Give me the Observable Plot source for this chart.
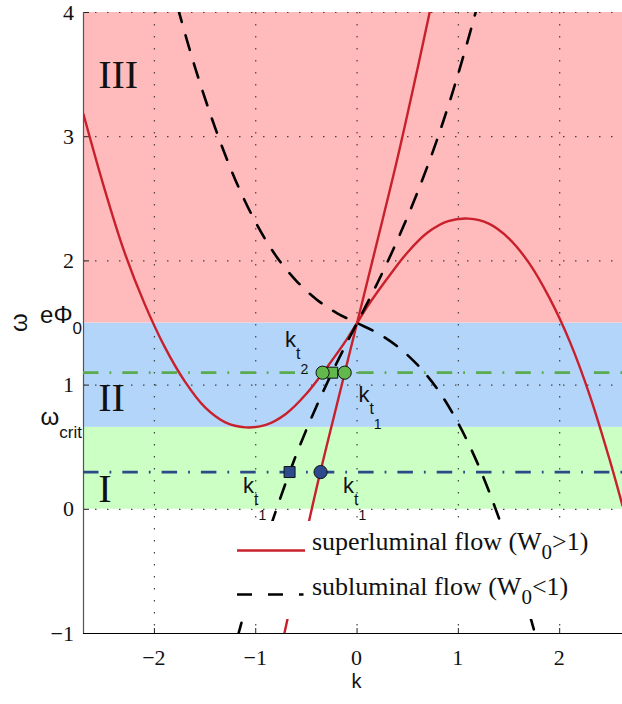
<!DOCTYPE html>
<html><head><meta charset="utf-8">
<script src="https://cdn.jsdelivr.net/npm/d3@7"></script>
<script src="https://cdn.jsdelivr.net/npm/@observablehq/plot@0.6"></script>
<style>body{margin:0;background:#fff}</style>
</head><body><div id="chart"></div>
<script>
// ---- data ----
const xTicks = [-2, -1, 0, 1, 2];
const yTicks = [-1, 0, 1, 2, 3, 4];
const bandLow  = [0, 0.66, 1.5];
const bandHigh = [0.66, 1.5, 4];
const bandNames = ["I", "II", "III"];
const bandLabelW = [0.056, 0.79, 3.385];

const kSuperA = [-2.7,-2.5,-2.3,-2.1,-1.9,-1.7,-1.5,-1.3,-1.1,-0.9,-0.7,-0.5,-0.3,-0.1,0,0.1,0.3,0.5,0.7,0.9,1.1,1.3,1.5,1.7,1.9,2.1,2.3,2.5,2.62];
const wSuperA = [3.18,2.60,2.08,1.66,1.31,1.03,0.82,0.70,0.66,0.68,0.77,0.93,1.14,1.37,1.50,1.63,1.86,2.07,2.23,2.32,2.34,2.30,2.18,1.98,1.70,1.35,0.91,0.38,0.03];
const kSuperB = [-0.72,-0.6,-0.4,-0.2,0,0.2,0.4,0.6,0.74];
const wSuperB = [-1.01,-0.56,0.17,0.84,1.50,2.16,2.83,3.56,4.09];
const kSubC = [-1.77,-1.6,-1.4,-1.2,-1.0,-0.8,-0.6,-0.4,-0.2,0,0.2,0.4,0.6,0.8,1.0,1.2,1.4,1.6,1.77];
const wSubC = [4.04,3.56,3.07,2.65,2.31,2.04,1.84,1.69,1.58,1.50,1.42,1.31,1.16,0.96,0.69,0.35,-0.07,-0.56,-1.04];
const kSubD = [-1.18,-1.0,-0.8,-0.6,-0.4,-0.2,0,0.2,0.4,0.6,0.8,1.0,1.18];
const wSubD = [-1.03,-0.51,-0.01,0.44,0.83,1.18,1.50,1.82,2.17,2.56,3.00,3.51,4.03];

const levelW = [1.1, 0.3];
const circleK = [-0.34, -0.122, -0.36];
const circleW = [1.1, 1.1, 0.3];
const squareK = [-0.245, -0.666];
const squareW = [1.1, 0.3];

const ktK = [-0.706, 0.018, -1.12, -0.133];
const ktW = [1.30, 0.861, 0.126, 0.126];
const ktSub = ["2", "1", "1", "1"];

const omegaPhi = 1.5, omegaCrit = 0.66;
const legendLabels = ["superluminal flow (W", "subluminal flow (W"];
const legendTails = [">1)", "<1)"];

// ---- styles ----
const W = 622, H = 704, mL = 83, mT = 12, mB = 71, mR = 0;
const xDomain = [-2.70, 2.62], yDomain = [-1, 4];
const bandColors = ["#ccffc4", "#b3d5f9", "#ffbbbb"];
const RED = "#c8202c", GREEN = "#5aaa50", BLUE = "#2c4a88";
const levelColors = [GREEN, BLUE];
const SERIF = "'Liberation Serif', 'Times New Roman', serif", SANS = "'Liberation Sans', Arial, sans-serif";
const zip = (ks, ws) => ks.map((k, i) => ({k, w: ws[i]}));
const markerFill = w => w > 0.7 ? "#62b84c" : "#2d4b8c";
const fmt = d => d < 0 ? "\u2212" + (-d) : String(d);

const frameW = W - mL - mR, frameH = H - mT - mB;

const plot = Plot.plot({
  width: W, height: H,
  marginLeft: mL, marginTop: mT, marginBottom: mB, marginRight: mR,
  x: {domain: xDomain, axis: null},
  y: {domain: yDomain, axis: null},
  style: {background: "white", overflow: "visible", fontVariant: "normal"},
  marks: [
    ...bandLow.map((lo, i) => Plot.rect([0], {x1: xDomain[0], x2: xDomain[1], y1: lo, y2: bandHigh[i], fill: bandColors[i]})),
    Plot.ruleX(xTicks, {x: d => d, stroke: "#444", strokeWidth: 1.2, strokeDasharray: "1.5,10.5"}),
    Plot.ruleY(yTicks.filter(d => d > -1), {y: d => d, stroke: "#444", strokeWidth: 1.2, strokeDasharray: "1.5,10.5"}),
    Plot.tickY(yTicks, {y: d => d, insetRight: frameW - 6, stroke: "#222"}),
    Plot.tickX(xTicks, {x: d => d, insetTop: frameH - 5, stroke: "#222"}),
    Plot.ruleX([xDomain[0]], {stroke: "#555", strokeWidth: 1.2}),
    Plot.ruleY([yDomain[0]], {stroke: "#000", strokeWidth: 1.2}),
    ...levelW.map((w, i) => Plot.ruleY([w], {y: d => d, stroke: levelColors[i], strokeWidth: 2.8, strokeDasharray: "15.5,11,1.8,11"})),
    Plot.line(zip(kSuperA, wSuperA), {x: "k", y: "w", stroke: RED, strokeWidth: 2.4, curve: "catmull-rom", clip: true}),
    Plot.line(zip(kSuperB, wSuperB), {x: "k", y: "w", stroke: RED, strokeWidth: 2.4, curve: "catmull-rom", clip: true}),
    Plot.line(zip(kSubC, wSubC), {x: "k", y: "w", stroke: "#000", strokeWidth: 2.6, strokeDasharray: "15,14", curve: "catmull-rom", clip: true}),
    Plot.line(zip(kSubD, wSubD), {x: "k", y: "w", stroke: "#000", strokeWidth: 2.6, strokeDasharray: "15,14", curve: "catmull-rom", clip: true}),
    Plot.dot(zip(squareK, squareW), {x: "k", y: "w", symbol: "square", r: 6.2, fill: d => markerFill(d.w), stroke: "#111", strokeWidth: 1}),
    Plot.dot(zip(circleK, circleW), {x: "k", y: "w", r: 6.6, fill: d => markerFill(d.w), stroke: "#111", strokeWidth: 1})
  ]
});

document.getElementById("chart").appendChild(plot);
const svg = d3.select(plot);
const sx = plot.scale("x"), sy = plot.scale("y");
const X = v => sx.apply(v), Y = v => sy.apply(v);
const txt = (x, y, family, size, anchor) => svg.append("text").attr("x", x).attr("y", y)
  .attr("fill", "#111")
  .style("font-family", family).style("font-size", size + "px")
  .style("font-variant", "normal").style("font-variant-numeric", "normal")
  .style("text-anchor", anchor);

// tick labels
xTicks.forEach(d => txt(X(d), 665, SERIF, 22, "middle").text(fmt(d)));
yTicks.forEach(d => txt(74, Y(d) + 7.5, SERIF, 22, "end").text(fmt(d)));

// region labels
bandNames.forEach((t, i) => txt(X(-2.55), Y(bandLabelW[i]), SERIF, 40, "start").text(t));

// k_t labels
ktK.forEach((k, i) => {
  const t = txt(X(k), Y(ktW[i]), SANS, 22, "start");
  t.append("tspan").text("k");
  t.append("tspan").attr("dy", 12).style("font-size", "16px").text("t");
  t.append("tspan").attr("dy", 15).style("font-size", "14px").text(ktSub[i]);
});

// special y tick labels
{
  const t = txt(mL - 1, Y(omegaPhi), SANS, 24, "end");
  t.append("tspan").text("eΦ");
  t.append("tspan").attr("dy", 11).style("font-size", "17px").text("0");
  const c = txt(mL - 1, Y(omegaCrit) - 2, SANS, 24, "end");
  c.append("tspan").text("ω");
  c.append("tspan").attr("dy", 13).style("font-size", "17px").text("crit");
}

// axis labels
txt(X(0), 688, SANS, 20, "middle").text("k");
txt(0, 0, SANS, 24, "middle").attr("transform", `translate(27,${Y(1.5)}) rotate(-90)`).text("ω");

// legend
{
  svg.append("rect").attr("x", 232).attr("y", 521).attr("width", 370).attr("height", 98).attr("fill", "white");
  svg.append("line").attr("x1", 237).attr("x2", 305).attr("y1", 550.5).attr("y2", 550.5)
    .attr("stroke", RED).attr("stroke-width", 2.4);
  svg.append("line").attr("x1", 237).attr("x2", 303.5).attr("y1", 594.5).attr("y2", 594.5)
    .attr("stroke", "#000").attr("stroke-width", 2.6).attr("stroke-dasharray", "15,16");
  [550, 595].forEach((yb, i) => {
    const t = txt(312, yb, SERIF, 26, "start");
    t.append("tspan").text(legendLabels[i]);
    t.append("tspan").attr("dy", 9).style("font-size", "21px").text("0");
    t.append("tspan").attr("dy", -9).text(legendTails[i]);
  });
}
</script>
</body></html>
